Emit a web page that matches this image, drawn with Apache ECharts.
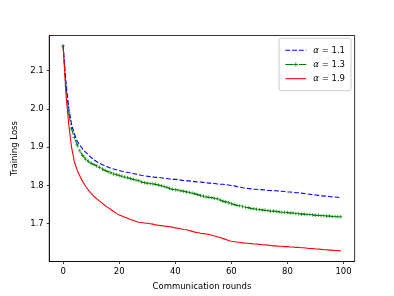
<!DOCTYPE html>
<html><head><meta charset="utf-8">
<script src="https://cdn.jsdelivr.net/npm/echarts@6/dist/echarts.min.js"></script>
<style>html,body{margin:0;padding:0;background:#fff}#c{width:394px;height:296px}</style>
</head><body><div id="c"></div>
<script>
const seriesNames = ['α = 1.1', 'α = 1.3', 'α = 1.9'];
const xTicks = [0, 20, 40, 60, 80, 100];
const yTicks = [1.7, 1.8, 1.9, 2.0, 2.1];
const loss11 = [2.165,2.070,2.002,1.960,1.935,1.916,1.905,1.895,1.887,1.880,
1.873,1.867,1.862,1.858,1.854,1.851,1.848,1.845,1.843,1.841,
1.839,1.837,1.836,1.834,1.833,1.831,1.830,1.828,1.826,1.825,
1.824,1.823,1.822,1.821,1.821,1.820,1.819,1.818,1.817,1.816,
1.816,1.815,1.814,1.813,1.812,1.812,1.811,1.810,1.809,1.809,
1.808,1.807,1.806,1.806,1.805,1.804,1.803,1.803,1.802,1.801,
1.800,1.799,1.797,1.796,1.794,1.793,1.792,1.791,1.790,1.790,
1.789,1.789,1.788,1.787,1.787,1.786,1.786,1.785,1.785,1.784,
1.783,1.783,1.782,1.781,1.781,1.780,1.779,1.778,1.777,1.776,
1.775,1.774,1.773,1.772,1.772,1.771,1.770,1.770,1.769,1.768];
const loss13 = [2.165,2.060,1.990,1.948,1.925,1.906,1.890,1.878,1.869,1.863,
1.858,1.855,1.851,1.847,1.843,1.839,1.836,1.833,1.830,1.828,
1.826,1.824,1.822,1.820,1.818,1.816,1.814,1.812,1.809,1.807,
1.806,1.805,1.804,1.803,1.801,1.799,1.797,1.795,1.792,1.790,
1.789,1.788,1.786,1.785,1.783,1.782,1.780,1.778,1.776,1.774,
1.772,1.770,1.769,1.768,1.766,1.765,1.762,1.759,1.757,1.755,
1.752,1.750,1.748,1.747,1.745,1.743,1.742,1.740,1.739,1.738,
1.737,1.736,1.735,1.734,1.733,1.733,1.732,1.731,1.730,1.730,
1.729,1.728,1.728,1.727,1.726,1.725,1.725,1.724,1.724,1.723,
1.722,1.722,1.721,1.721,1.720,1.720,1.719,1.719,1.718,1.718];
const loss19 = [2.165,2.040,1.960,1.900,1.862,1.840,1.824,1.810,1.798,1.788,
1.779,1.771,1.765,1.759,1.753,1.747,1.742,1.737,1.732,1.727,
1.723,1.720,1.717,1.714,1.711,1.709,1.706,1.704,1.703,1.702,
1.701,1.700,1.699,1.697,1.696,1.695,1.694,1.693,1.692,1.691,
1.689,1.688,1.687,1.685,1.684,1.682,1.680,1.678,1.677,1.675,
1.674,1.673,1.672,1.670,1.668,1.666,1.664,1.661,1.659,1.656,
1.654,1.653,1.652,1.651,1.650,1.649,1.649,1.648,1.647,1.647,
1.646,1.645,1.645,1.644,1.643,1.642,1.642,1.641,1.641,1.640,
1.640,1.639,1.639,1.638,1.638,1.637,1.637,1.636,1.635,1.635,
1.634,1.634,1.633,1.632,1.632,1.631,1.631,1.630,1.630,1.629];
const rounds = loss11.map((_, i) => i);

const pairs = arr => arr.map((v, i) => [rounds[i], v]);
const font = 'DejaVu Sans';
const tickStyle = {lineStyle: {color: '#000', width: 0.8}, length: 2.5, inside: false};
const chart = echarts.init(document.getElementById('c'), null, {renderer: 'canvas'});
chart.setOption({
  animation: false,
  backgroundColor: '#fff',
  grid: {left: 49.25, right: 39.4, top: 35.5, bottom: 32.6, show: true, borderColor: '#000', borderWidth: 0.8, backgroundColor: 'transparent'},
  legend: {
    orient: 'vertical', right: 43, top: 38.3,
    padding: [7.5, 6, 7.5, 5.7], itemGap: 5.2, itemWidth: 21, itemHeight: 5,
    backgroundColor: 'rgba(255,255,255,0.8)', borderColor: '#cccccc', borderWidth: 1, borderRadius: 2,
    lineStyle: {width: 1.1},
    textStyle: {fontFamily: font, fontSize: 8.5, color: '#000', padding: [0, 0, 0, 2],
      rich: {i: {fontFamily: font, fontStyle: 'italic', fontSize: 8.5, color: '#000'}}},
    formatter: n => '{i|α}' + n.slice(1),
    data: [
      {name: seriesNames[0], itemStyle: {opacity: 0}},
      {name: seriesNames[1]},
      {name: seriesNames[2], itemStyle: {opacity: 0}}
    ]
  },
  xAxis: {
    type: 'value', min: -4.95, max: 103.95,
    name: 'Communication rounds', nameLocation: 'middle', nameGap: 20.5,
    nameTextStyle: {fontFamily: font, fontSize: 8.5, color: '#000'},
    axisLine: {show: true, onZero: false, lineStyle: {color: '#000', width: 0.8}}, splitLine: {show: false},
    axisTick: Object.assign({show: true, customValues: xTicks}, tickStyle),
    axisLabel: {customValues: xTicks, fontFamily: font, fontSize: 8.5, color: '#000', margin: 5.5, showMinLabel: true, showMaxLabel: true}
  },
  yAxis: {
    type: 'value', min: 1.6012, max: 2.192,
    name: 'Training Loss', nameLocation: 'middle', nameGap: 27.5, nameRotate: 90,
    nameTextStyle: {fontFamily: font, fontSize: 8.5, color: '#000'},
    axisLine: {show: true, onZero: false, lineStyle: {color: '#000', width: 0.8}}, splitLine: {show: false},
    axisTick: Object.assign({show: true, customValues: yTicks}, tickStyle),
    axisLabel: {customValues: yTicks, fontFamily: font, fontSize: 8.5, color: '#000', margin: 5.5, formatter: v => v.toFixed(1)}
  },
  series: [
    {name: seriesNames[0], type: 'line', data: pairs(loss11), symbol: 'none', z: 3,
      lineStyle: {color: '#0000ff', width: 1.1, type: [4.75, 2.05]}, itemStyle: {color: '#0000ff'}},
    {name: seriesNames[1], type: 'line', data: pairs(loss13), z: 2,
      symbol: 'path://M-0.6,-3H0.6V-0.6H3V0.6H0.6V3H-0.6V0.6H-3V-0.6H-0.6Z', symbolSize: 3.5, showSymbol: true, showAllSymbol: true,
      lineStyle: {color: '#008000', width: 1.1, type: [8.2, 2.05, 1.28, 2.05]}, itemStyle: {color: '#008000'}},
    {name: seriesNames[2], type: 'line', data: pairs(loss19), symbol: 'none', z: 4,
      lineStyle: {color: '#ff0000', width: 1.1}, itemStyle: {color: '#ff0000'}}
  ]
});
</script></body></html>
